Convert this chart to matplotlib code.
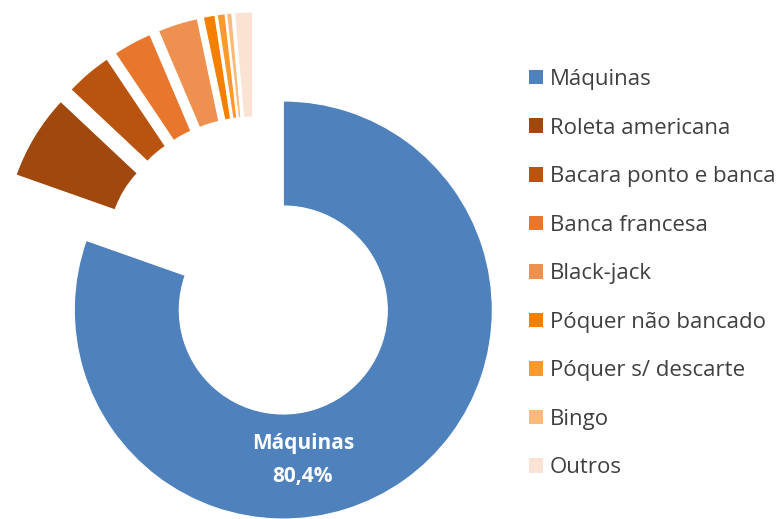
import matplotlib.pyplot as plt
from matplotlib.patches import Patch

labels = ['Máquinas', 'Roleta americana', 'Bacara ponto e banca', 'Banca francesa',
          'Black-jack', 'Póquer não bancado', 'Póquer s/ descarte', 'Bingo', 'Outros']
shares = [80.4, 6.6, 3.6, 3.0, 3.1, 0.9, 0.6, 0.4, 1.4]
colors = ['#4F81BD', '#A0480E', '#B95310', '#E8762C', '#EE9150',
          '#F58000', '#FA992D', '#FDB978', '#FBE3D4']

plt.rcParams['font.family'] = ['Open Sans', 'DejaVu Sans']

W, H = 784, 519
fig = plt.figure(figsize=(W / 100, H / 100), dpi=100)
ax = fig.add_axes([0, 0, 1, 1])

# pie drawn in pixel-like data units, every slice pulled out a little
cx, cy, R = 255, H - 270, 209
explode = [49] * len(shares)
wedges, _ = ax.pie(shares, colors=colors, startangle=90, counterclock=False,
                   center=(cx, cy), radius=R, explode=explode,
                   wedgeprops=dict(width=105, edgecolor='white', linewidth=0.8))

ax.text(303, H - 460, f'{labels[0]}\n{shares[0]:.1f}%'.replace('.', ','),
        ha='center', va='center', color='white', fontsize=15,
        fontweight='bold', linespacing=1.8)

ax.set_xlim(0, W)
ax.set_ylim(0, H)
ax.set_aspect('equal')
ax.axis('off')

handles = [Patch(facecolor=c, edgecolor='none') for c in colors]
fig.legend(handles, labels, loc='upper left', bbox_to_anchor=(509 / W, 1 - 49 / H),
           frameon=False, fontsize=16, handlelength=0.63, handleheight=0.63,
           handletextpad=0.3, labelspacing=1.24, labelcolor='#404040')

fig.savefig('out.png', dpi=100)
